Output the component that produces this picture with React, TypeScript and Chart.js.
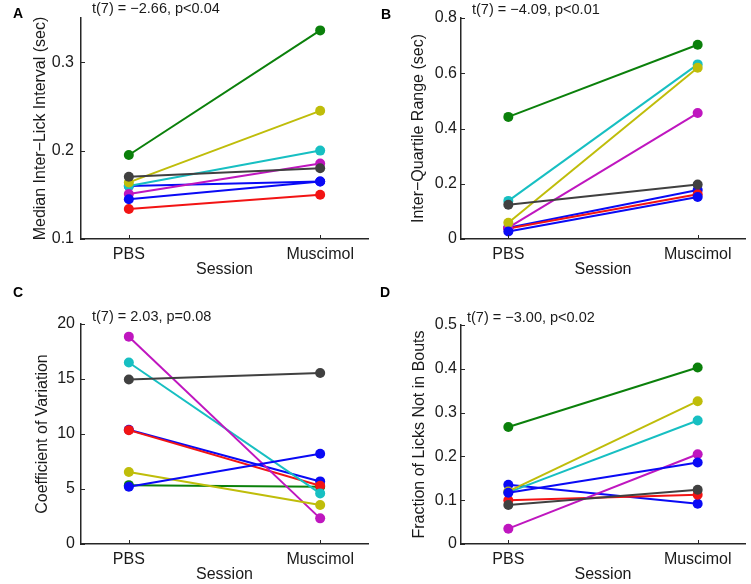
import React, { useEffect, useRef } from 'react';
import { Chart, registerables } from 'chart.js';

Chart.register(...registerables);

// ---------- data ----------
const categories = ['PBS', 'Muscimol'];
const subjectColors = ['#0a0af5', '#0b800b', '#f21414', '#17bfc2', '#bf16bf', '#bfbd0a', '#404040', '#0a0af5'];

const iliPBS = [0.16, 0.195, 0.134, 0.16, 0.151, 0.164, 0.1705, 0.145];
const iliMus = [0.165, 0.336, 0.15, 0.2, 0.1855, 0.245, 0.18, 0.165];
const iqrPBS = [0.041, 0.442, 0.038, 0.138, 0.041, 0.059, 0.124, 0.027];
const iqrMus = [0.177, 0.703, 0.162, 0.632, 0.456, 0.62, 0.197, 0.152];
const cvPBS = [10.39, 5.35, 10.35, 16.5, 18.85, 6.55, 14.95, 5.2];
const cvMus = [5.69, 5.2, 5.3, 4.6, 2.33, 3.55, 15.55, 8.21];
const fracPBS = [0.135, 0.267, 0.1, 0.118, 0.035, 0.12, 0.089, 0.117];
const fracMus = [0.092, 0.403, 0.1125, 0.282, 0.205, 0.326, 0.124, 0.186];

const iliTicks = [0.1, 0.2, 0.3];
const iqrTicks = [0, 0.2, 0.4, 0.6, 0.8];
const cvTicks = [0, 5, 10, 15, 20];
const fracTicks = [0, 0.1, 0.2, 0.3, 0.4, 0.5];

const FONT = "'Liberation Sans', Arial, Helvetica, sans-serif";
const INK = '#1a1a1a';

type PanelCfg = {
  letter: string;
  stat: string;
  yTitle: string;
  pbs: number[];
  mus: number[];
  ticks: number[];
  yMin: number;
  yMax: number;
  left: number;
  top: number;
  yWidth: number;
  padTop: number;
  padRight: number;
  padBottom: number;
  yTitlePad: number;
  yTickPad: number;
  statLeft: number;
  statTop: number;
  letterLeft: number;
  letterTop: number;
};

const panels: PanelCfg[] = [
  {
    letter: 'A', stat: 't(7) = \u22122.66, p<0.04', yTitle: 'Median Inter\u2212Lick Interval (sec)',
    pbs: iliPBS, mus: iliMus, ticks: iliTicks, yMin: 0.1, yMax: 0.35,
    left: 0, top: 0, yWidth: 81, padTop: 18, padRight: 7, padBottom: 13, yTitlePad: 31, yTickPad: 7,
    statLeft: 92, statTop: 0, letterLeft: 13, letterTop: 4.5,
  },
  {
    letter: 'B', stat: 't(7) = \u22124.09, p<0.01', yTitle: 'Inter\u2212Quartile Range (sec)',
    pbs: iqrPBS, mus: iqrMus, ticks: iqrTicks, yMin: 0, yMax: 0.8,
    left: 375, top: 0, yWidth: 86, padTop: 18, padRight: 3, padBottom: 13, yTitlePad: 34, yTickPad: 4,
    statLeft: 472, statTop: 1, letterLeft: 381, letterTop: 5.5,
  },
  {
    letter: 'C', stat: 't(7) = 2.03, p=0.08', yTitle: 'Coefficient of Variation',
    pbs: cvPBS, mus: cvMus, ticks: cvTicks, yMin: 0, yMax: 20,
    left: 0, top: 292, yWidth: 81, padTop: 32, padRight: 7, padBottom: 0, yTitlePad: 33, yTickPad: 6,
    statLeft: 92, statTop: 308, letterLeft: 13, letterTop: 284,
  },
  {
    letter: 'D', stat: 't(7) = \u22123.00, p<0.02', yTitle: 'Fraction of Licks Not in Bouts',
    pbs: fracPBS, mus: fracMus, ticks: fracTicks, yMin: 0, yMax: 0.5,
    left: 375, top: 292, yWidth: 86, padTop: 33, padRight: 3, padBottom: 0, yTitlePad: 35, yTickPad: 4,
    statLeft: 467, statTop: 309, letterLeft: 380, letterTop: 284,
  },
];

const inwardTicks = {
  id: 'inwardTicks',
  afterDraw(chart: any) {
    const { ctx, chartArea, scales } = chart;
    ctx.save();
    ctx.strokeStyle = '#262626';
    ctx.lineWidth = 1;
    ctx.beginPath();
    scales.x.ticks.forEach((t: any) => {
      const px = Math.round(scales.x.getPixelForValue(t.value)) + 0.5;
      ctx.moveTo(px, chartArea.bottom);
      ctx.lineTo(px, chartArea.bottom - 4);
    });
    scales.y.ticks.forEach((t: any) => {
      const py = Math.round(scales.y.getPixelForValue(t.value)) + 0.5;
      ctx.moveTo(chartArea.left, py);
      ctx.lineTo(chartArea.left + 4, py);
    });
    ctx.stroke();
    ctx.restore();
  },
};

function Panel({ cfg }: { cfg: PanelCfg }) {
  const ref = useRef<HTMLCanvasElement>(null);
  useEffect(() => {
    const n = cfg.pbs.length;
    const datasets = cfg.pbs.map((p, i) => ({
      label: 'S' + (i + 1),
      data: [
        { x: 0, y: p },
        { x: 1, y: cfg.mus[i] },
      ],
      showLine: true,
      borderColor: subjectColors[i],
      backgroundColor: subjectColors[i],
      borderWidth: 2,
      pointRadius: 5,
      pointBorderWidth: 0,
      pointBackgroundColor: subjectColors[i],
      order: n - i,
    }));
    const chart = new Chart(ref.current as HTMLCanvasElement, {
      type: 'scatter',
      data: { datasets },
      plugins: [inwardTicks],
      options: {
        animation: false,
        responsive: false,
        devicePixelRatio: 1,
        layout: { padding: { left: 0, top: cfg.padTop, right: cfg.padRight, bottom: cfg.padBottom } },
        plugins: { legend: { display: false }, tooltip: { enabled: false } },
        scales: {
          x: {
            type: 'linear',
            min: -0.25,
            max: 1.25,
            afterBuildTicks: (s: any) => {
              s.ticks = categories.map((_, i) => ({ value: i }));
            },
            afterFit: (s: any) => {
              s.height = 40;
            },
            ticks: {
              autoSkip: false,
              maxRotation: 0,
              padding: 6,
              color: INK,
              font: { family: FONT, size: 16 },
              callback: (_v: any, i: number) => categories[i],
            },
            grid: { display: false, drawTicks: false },
            border: { display: true, color: '#262626', width: 1.5 },
            title: {
              display: true,
              text: 'Session',
              color: INK,
              font: { family: FONT, size: 16 },
              padding: { top: 0, bottom: 0 },
            },
          },
          y: {
            type: 'linear',
            min: cfg.yMin,
            max: cfg.yMax,
            afterBuildTicks: (s: any) => {
              s.ticks = cfg.ticks.map((v) => ({ value: v }));
            },
            afterFit: (s: any) => {
              s.width = cfg.yWidth;
            },
            ticks: {
              autoSkip: false,
              padding: cfg.yTickPad,
              color: INK,
              font: { family: FONT, size: 16 },
              callback: (v: any) => String(v),
            },
            grid: { display: false, drawTicks: false },
            border: { display: true, color: '#262626', width: 1.5 },
            title: {
              display: true,
              text: cfg.yTitle,
              color: INK,
              font: { family: FONT, size: 16 },
              padding: { top: cfg.yTitlePad, bottom: 0 },
            },
          },
        },
      },
    } as any);
    return () => chart.destroy();
  }, [cfg]);
  return (
    <div style={{ position: 'absolute', left: cfg.left, top: cfg.top, width: 375, height: 292 }}>
      <canvas ref={ref} width={375} height={292} style={{ display: 'block', width: 375, height: 292 }} />
    </div>
  );
}

export default function App() {
  return (
    <div
      style={{
        position: 'absolute',
        left: 0,
        top: 0,
        width: 751,
        height: 584,
        background: '#ffffff',
        overflow: 'hidden',
        fontFamily: FONT,
      }}
    >
      {panels.map((p) => (
        <Panel key={p.letter} cfg={p} />
      ))}
      {panels.map((p) => (
        <div
          key={'s' + p.letter}
          style={{
            position: 'absolute',
            left: p.statLeft,
            top: p.statTop,
            fontSize: 14.5,
            lineHeight: '16px',
            color: INK,
            whiteSpace: 'nowrap',
          }}
        >
          {p.stat}
        </div>
      ))}
      {panels.map((p) => (
        <div
          key={'l' + p.letter}
          style={{
            position: 'absolute',
            left: p.letterLeft,
            top: p.letterTop,
            fontSize: 14,
            fontWeight: 'bold',
            lineHeight: '16px',
            color: '#000',
          }}
        >
          {p.letter}
        </div>
      ))}
    </div>
  );
}
